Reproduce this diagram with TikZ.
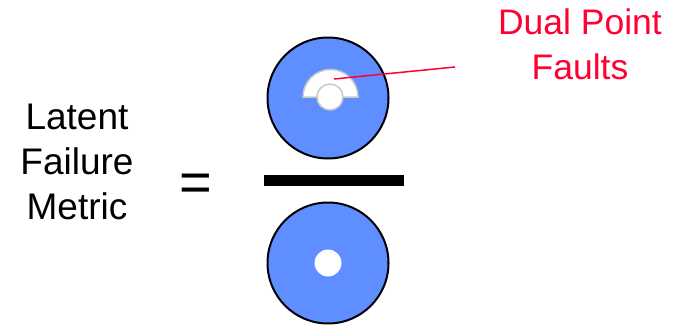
\documentclass[tikz,border=0pt]{standalone}
\usepackage{fontspec}
\setmainfont{Liberation Sans}
\definecolor{diskblue}{RGB}{94,142,255}
\definecolor{faultred}{RGB}{255,0,51}
\definecolor{rimgray}{RGB}{200,200,200}
\tikzset{
  disk/.style={circle,draw=black,line width=2pt,fill=diskblue,minimum size=121pt,inner sep=0pt},
  hole/.style={circle,fill=white,minimum size=27pt,inner sep=0pt},
  bigtext/.style={align=center,inner sep=0pt,font=\fontsize{37}{45}\selectfont},
  redtext/.style={align=center,inner sep=0pt,text=faultred,font=\fontsize{35.5}{45}\selectfont},
  pointer/.style={draw=faultred,line width=1.5pt},
}
\begin{document}
\begin{tikzpicture}[x=1pt,y=-1pt]
\useasboundingbox (0,0) rectangle (682,324);
\fill[white] (0,0) rectangle (682,324);
% left text
\node[bigtext] (lfm) at (77,162) {Latent\\Failure\\Metric};
\node[inner sep=0pt,font=\fontsize{56}{60}\selectfont] (eq) at (196,188) {=};
% disks
\node[disk] (top) at (328,98) {};
\node[disk] (bot) at (328,263) {};
\node[hole] (bhole) at (bot.center) {};
% fraction bar
\fill[black] (264,175) rectangle (404,186);
% top fault symbol
\draw[rimgray,line width=1.5pt,fill=white] (303,97) arc[start angle=180,end angle=360,radius=27.5] -- cycle;
\node[circle,draw=rimgray,line width=1.5pt,fill=white,minimum size=26pt,inner sep=0pt] (thole) at (330,97) {};
% label
\node[redtext] (dpf) at (580,44) {Dual Point\\Faults};
\coordinate (tip) at (334,79);
\coordinate (lend) at (455,67);
\draw[pointer] (tip) -- (lend);
\end{tikzpicture}
\end{document}
